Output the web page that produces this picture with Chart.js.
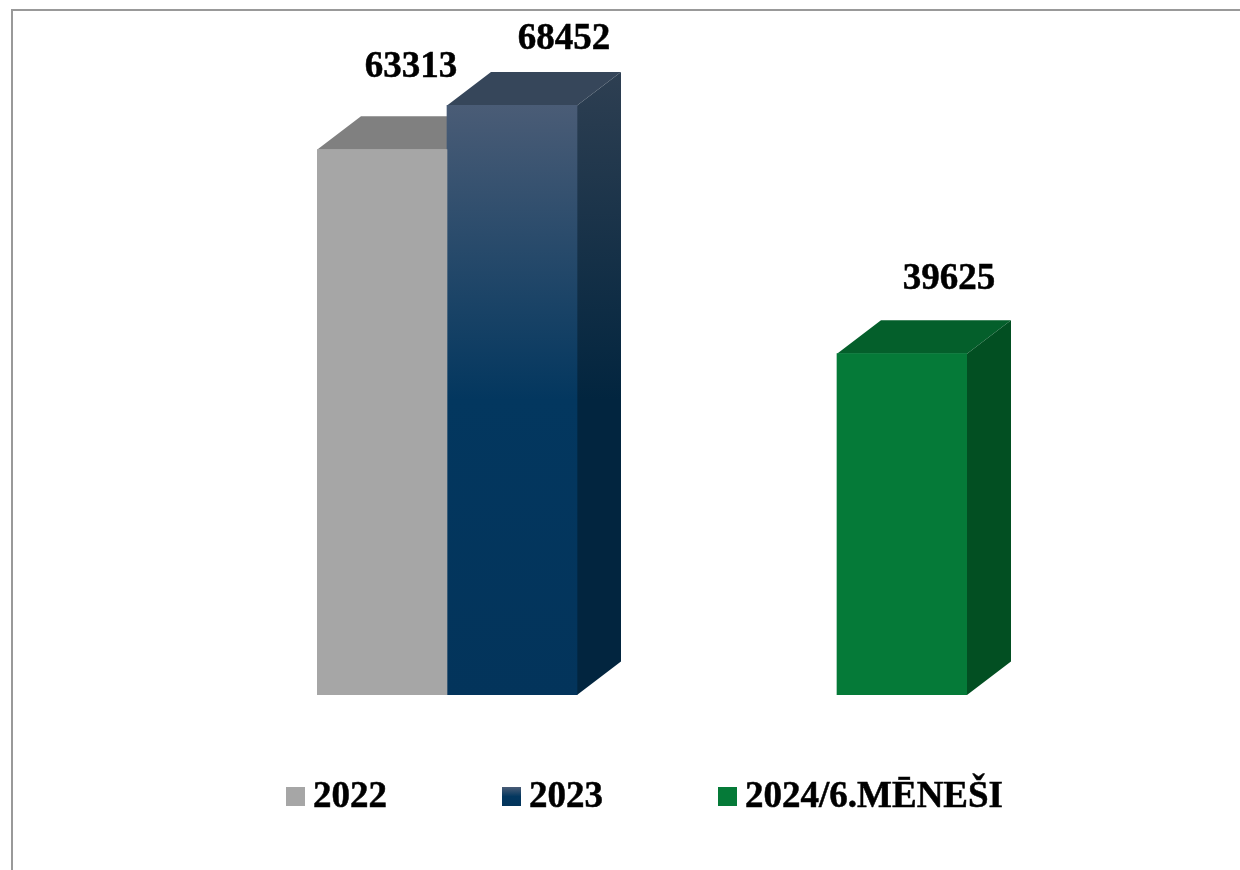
<!DOCTYPE html>
<html>
<head>
<meta charset="utf-8">
<script src="https://cdn.jsdelivr.net/npm/chart.js@4"></script>
<style>
  html,body{margin:0;background:#fff;overflow:hidden}
  #wrap{position:relative;width:1240px;height:870px}
  #frame{position:absolute;left:11px;top:9px;width:1240px;height:870px;border-left:2px solid #999;border-top:2px solid #999}
  canvas{position:absolute;left:0;top:0}
  #legend{position:absolute;left:286px;top:773px;display:flex;font:bold 37px "Liberation Serif",serif;color:#000;line-height:44px;-webkit-text-stroke:0.5px #000}
  .item{display:flex;align-items:center;flex:0 0 216px;white-space:nowrap}
  .swatch{flex:0 0 19px;height:19px;margin-right:8px;position:relative;top:1px}
</style>
</head>
<body>
<div id="wrap">
  <div id="frame"></div>
  <canvas id="chart" width="1240" height="870"></canvas>
  <div id="legend"></div>
</div>
<script>
// empty slots keep the gap between 2023 and the 2024 bar
const categories = ["2022", "2023", "", "", "2024/6.MĒNEŠI"];
const series2022 = [63313, null, null, null, null];
const series2023 = [null, 68452, null, null, null];
const series2024 = [null, null, null, null, 39625];
const seriesNames = ["2022", "2023", "2024/6.MĒNEŠI"];

const DEPTH = { x: 44, y: 33.5 };
const LABEL_SHIFT = [{ x: 29, y: 73 }, { x: 52, y: 56 }, { x: 47, y: 65 }];
const GREY = { front: "#a6a6a6", top: "#808080", side: "#6e6e6e" };
const GREEN = { front: "#057a38", top: "#045f2b", side: "#024f22" };
const BLUE_STOPS = [[0, "#4a5c76"], [0.5, "#03375f"], [1, "#03345b"]];

function blueFront(c) {
  const chart = c.chart;
  if (!chart.chartArea) return "#03375f";
  const g = chart.ctx.createLinearGradient(0, chart.scales.y.getPixelForValue(series2023[1]), 0, chart.chartArea.bottom);
  BLUE_STOPS.forEach(s => g.addColorStop(s[0], s[1]));
  return g;
}

// side and top faces, taken from the bar elements so they follow the scale
const box3d = {
  id: "box3d",
  beforeDatasetsDraw(chart) {
    const ctx = chart.ctx;
    chart.data.datasets.forEach((ds, i) => {
      chart.getDatasetMeta(i).data.forEach((bar, j) => {
        if (ds.data[j] == null) return;
        const l = bar.x - bar.width / 2, r = bar.x + bar.width / 2, t = bar.y, b = bar.base;
        let top = ds.face.top, side = ds.face.side;
        if (i === 1) {
          side = ctx.createLinearGradient(0, t - DEPTH.y, 0, (t + b) / 2);
          side.addColorStop(0, "#2e3f52");
          side.addColorStop(1, "#02253f");
        }
        ctx.fillStyle = top;
        ctx.beginPath();
        ctx.moveTo(l, t); ctx.lineTo(l + DEPTH.x, t - DEPTH.y); ctx.lineTo(r + DEPTH.x, t - DEPTH.y); ctx.lineTo(r, t);
        ctx.closePath(); ctx.fill();
        ctx.fillStyle = side;
        ctx.beginPath();
        ctx.moveTo(r, t); ctx.lineTo(r + DEPTH.x, t - DEPTH.y); ctx.lineTo(r + DEPTH.x, b - DEPTH.y); ctx.lineTo(r, b);
        ctx.closePath(); ctx.fill();
      });
    });
  },
  afterDatasetsDraw(chart) {
    const ctx = chart.ctx;
    ctx.save();
    ctx.font = 'bold 37px "Liberation Serif", serif';
    ctx.fillStyle = "#000";
    ctx.strokeStyle = "#000";
    ctx.lineWidth = 0.5;
    ctx.textAlign = "center";
    ctx.textBaseline = "alphabetic";
    chart.data.datasets.forEach((ds, i) => {
      chart.getDatasetMeta(i).data.forEach((bar, j) => {
        if (ds.data[j] == null) return;
        const tx = bar.x + LABEL_SHIFT[i].x, ty = bar.y - LABEL_SHIFT[i].y;
        ctx.fillText(String(ds.data[j]), tx, ty);
        ctx.strokeText(String(ds.data[j]), tx, ty);
      });
    });
    ctx.restore();
  }
};

new Chart(document.getElementById("chart"), {
  type: "bar",
  data: {
    labels: categories,
    datasets: [
      { label: seriesNames[0], data: series2022, backgroundColor: GREY.front, face: GREY },
      { label: seriesNames[1], data: series2023, backgroundColor: blueFront, face: { top: "#36465a" } },
      { label: seriesNames[2], data: series2024, backgroundColor: GREEN.front, face: GREEN }
    ]
  },
  options: {
    responsive: false,
    animation: false,
    layout: { padding: { left: 317, right: 273, top: 49, bottom: 175 } },
    plugins: { legend: { display: false }, tooltip: { enabled: false } },
    scales: {
      x: { display: false, stacked: true },
      y: { display: false, min: 0, max: 75000 }
    },
    datasets: { bar: { categoryPercentage: 1, barPercentage: 1 } }
  },
  plugins: [box3d]
});

// legend is HTML: the items sit on an even pitch the built-in one cannot give here
const swatches = [GREY.front, "linear-gradient(" + BLUE_STOPS.map(s => s[1] + " " + s[0] * 100 + "%").join(",") + ")", GREEN.front];
const legendEl = document.getElementById("legend");
seriesNames.forEach((name, i) => {
  const item = document.createElement("div"); item.className = "item";
  const sw = document.createElement("span"); sw.className = "swatch"; sw.style.background = swatches[i];
  const tx = document.createElement("span"); tx.textContent = name;
  item.append(sw, tx); legendEl.appendChild(item);
});
</script>
</body>
</html>
